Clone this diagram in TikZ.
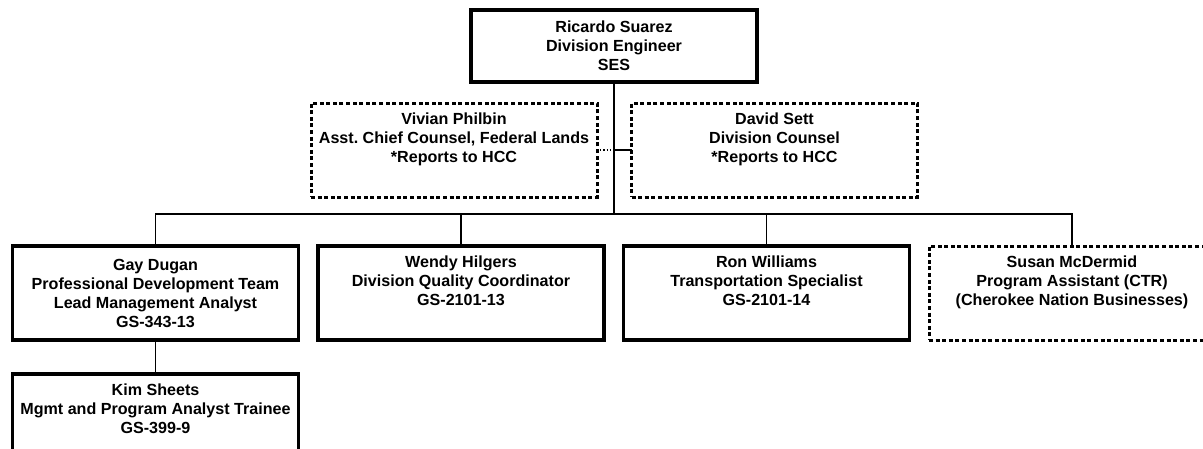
\documentclass[tikz,border=0pt]{standalone}
\usepackage{fontspec}
\setmainfont{Liberation Sans}
\frenchspacing
\begin{document}
\begin{tikzpicture}[x=1pt,y=-1pt,
  boxbase/.style={rectangle, outer sep=0pt, inner sep=0pt, align=center,
    font=\fontsize{16.1}{19}\selectfont\bfseries, minimum width=286pt, minimum height=94pt},
  solidbox/.style={boxbase, draw=black, line width=3.3pt},
  dotbox/.style={boxbase, draw=black, line width=3pt, dash pattern=on 4pt off 2.6pt},
  conn/.style={draw=black, line width=1.2pt}]
\useasboundingbox (0,0) rectangle (1203,448);
\clip (0,0) rectangle (1203,448);
\fill[white] (0,0) rectangle (1203,448);

\node[solidbox, minimum height=72pt] (ric) at (614,46) {Ricardo Suarez\\Division Engineer\\SES};
\node[dotbox] (viv) at (454,150) {Vivian Philbin\\Asst. Chief Counsel, Federal Lands\\*Reports to HCC\\\strut};
\node[dotbox] (dav) at (774.5,150) {David Sett\\Division Counsel\\*Reports to HCC\\\strut};

\node[solidbox] (gay) at (155.5,293) {Gay Dugan\\Professional Development Team\\Lead Management Analyst\\GS-343-13};
\node[solidbox] (wen) at (461,293) {Wendy Hilgers\\Division Quality Coordinator\\GS-2101-13\\\strut};
\node[solidbox] (ron) at (766.5,293) {Ron Williams\\Transportation Specialist\\GS-2101-14\\\strut};
\node[dotbox] (sus) at (1072,293) {Susan McDermid\\Program Assistant (CTR)\\(Cherokee Nation Businesses)\\\strut};
\node[solidbox] (kim) at (155.5,421) {Kim Sheets\\Mgmt and Program Analyst Trainee\\GS-399-9\\\strut};

\coordinate (hub) at (614,214);
\coordinate (cross) at (614,150);

\draw[conn] (ric.south) -- (hub);
\draw[conn] (gay.north) |- (hub) -| (sus.north);
\draw[conn] (wen.north) -- (wen.north |- hub);
\draw[conn] (ron.north) -- (ron.north |- hub);
\draw[conn, dotted] (viv.east) -- (cross);
\draw[conn] (cross) -- (dav.west);
\draw[conn] (gay.south) -- (kim.north);
\end{tikzpicture}
\end{document}
